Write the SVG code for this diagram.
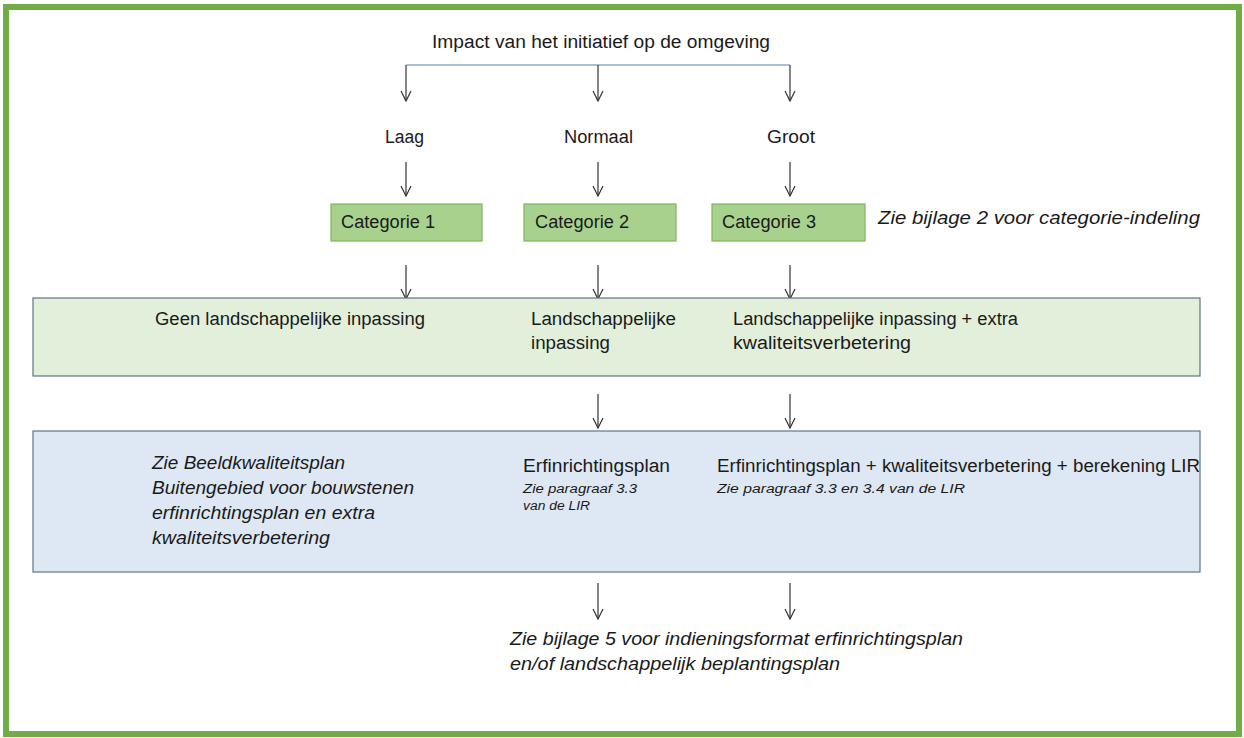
<svg xmlns="http://www.w3.org/2000/svg" width="1244" height="738" viewBox="0 0 1244 738">
<defs>
<marker id="ah" markerWidth="12" markerHeight="12" refX="11" refY="6" orient="auto" markerUnits="userSpaceOnUse" viewBox="0 0 12 12">
<path d="M1,1 L11,6 L1,11" fill="none" stroke="#333" stroke-width="1.2"/>
</marker>
</defs>
<style>
.t{font-family:"Liberation Sans",Arial,sans-serif;font-size:18px;fill:#1a1a1a}
.i{font-style:italic}
.s{font-size:12.5px}
.arr{stroke:#333;stroke-width:1.2;fill:none;marker-end:url(#ah)}
.cat{fill:#a9d18e;stroke:#7fb35a;stroke-width:1.2}
</style>
<rect x="6" y="7" width="1233" height="727" fill="#fff" stroke="#70ad47" stroke-width="6"/>

<g id="connectors">
<line x1="406" y1="65" x2="790" y2="65" stroke="#5b7fa6" stroke-width="1.2"/>
<line class="arr" x1="406" y1="65" x2="406" y2="101"/>
<line class="arr" x1="598" y1="65" x2="598" y2="101"/>
<line class="arr" x1="790" y1="65" x2="790" y2="101"/>
<line class="arr" x1="406" y1="162" x2="406" y2="196"/>
<line class="arr" x1="598" y1="162" x2="598" y2="196"/>
<line class="arr" x1="790" y1="162" x2="790" y2="196"/>
<line class="arr" x1="406" y1="265" x2="406" y2="299"/>
<line class="arr" x1="598" y1="265" x2="598" y2="299"/>
<line class="arr" x1="790" y1="265" x2="790" y2="299"/>
<line class="arr" x1="598" y1="394" x2="598" y2="428"/>
<line class="arr" x1="790" y1="394" x2="790" y2="428"/>
<line class="arr" x1="598" y1="583" x2="598" y2="619"/>
<line class="arr" x1="790" y1="583" x2="790" y2="619"/>
</g>

<g id="title"><text class="t" x="432" y="48" textLength="338" lengthAdjust="spacingAndGlyphs">Impact van het initiatief op de omgeving</text></g>
<g id="laag"><text class="t" x="385" y="143" textLength="39" lengthAdjust="spacingAndGlyphs">Laag</text></g>
<g id="normaal"><text class="t" x="564" y="143" textLength="69" lengthAdjust="spacingAndGlyphs">Normaal</text></g>
<g id="groot"><text class="t" x="767" y="143" textLength="48" lengthAdjust="spacingAndGlyphs">Groot</text></g>

<g id="cat1"><rect class="cat" x="331" y="204" width="151" height="37"/><text class="t" x="341" y="228" textLength="94" lengthAdjust="spacingAndGlyphs">Categorie 1</text></g>
<g id="cat2"><rect class="cat" x="524" y="204" width="152" height="37"/><text class="t" x="535" y="228" textLength="94" lengthAdjust="spacingAndGlyphs">Categorie 2</text></g>
<g id="cat3"><rect class="cat" x="712" y="204" width="153" height="37"/><text class="t" x="722" y="228" textLength="94" lengthAdjust="spacingAndGlyphs">Categorie 3</text></g>
<g id="note-cat"><text class="t i" x="878" y="224" textLength="322" lengthAdjust="spacingAndGlyphs">Zie bijlage 2 voor categorie-indeling</text></g>

<g id="inpassing">
<rect x="33" y="298" width="1167" height="78" fill="#e2efda" stroke="#5f7586" stroke-width="1.2"/>
<text class="t" x="155" y="325" textLength="270" lengthAdjust="spacingAndGlyphs">Geen landschappelijke inpassing</text>
<text class="t" x="531" y="325" textLength="145" lengthAdjust="spacingAndGlyphs">Landschappelijke</text>
<text class="t" x="531" y="349" textLength="79" lengthAdjust="spacingAndGlyphs">inpassing</text>
<text class="t" x="733" y="325" textLength="285" lengthAdjust="spacingAndGlyphs">Landschappelijke inpassing + extra</text>
<text class="t" x="733" y="349" textLength="178" lengthAdjust="spacingAndGlyphs">kwaliteitsverbetering</text>
</g>

<g id="plannen">
<rect x="33" y="431" width="1167" height="141" fill="#dee8f4" stroke="#5f7586" stroke-width="1.2"/>
<text class="t i" x="152" y="469" textLength="193" lengthAdjust="spacingAndGlyphs">Zie Beeldkwaliteitsplan</text>
<text class="t i" x="152" y="494" textLength="262" lengthAdjust="spacingAndGlyphs">Buitengebied voor bouwstenen</text>
<text class="t i" x="152" y="519" textLength="223" lengthAdjust="spacingAndGlyphs">erfinrichtingsplan en extra</text>
<text class="t i" x="152" y="544" textLength="178" lengthAdjust="spacingAndGlyphs">kwaliteitsverbetering</text>
<text class="t" x="523" y="472" textLength="147" lengthAdjust="spacingAndGlyphs">Erfinrichtingsplan</text>
<text class="t i s" x="523" y="493" textLength="114" lengthAdjust="spacingAndGlyphs">Zie paragraaf 3.3</text>
<text class="t i s" x="523" y="510" textLength="67" lengthAdjust="spacingAndGlyphs">van de LIR</text>
<text class="t" x="717" y="472" textLength="483" lengthAdjust="spacingAndGlyphs">Erfinrichtingsplan + kwaliteitsverbetering + berekening LIR</text>
<text class="t i s" x="717" y="493" textLength="248" lengthAdjust="spacingAndGlyphs">Zie paragraaf 3.3 en 3.4 van de LIR</text>
</g>

<g id="note-bijlage5">
<text class="t i" x="510" y="645" textLength="453" lengthAdjust="spacingAndGlyphs">Zie bijlage 5 voor indieningsformat erfinrichtingsplan</text>
<text class="t i" x="510" y="670" textLength="330" lengthAdjust="spacingAndGlyphs">en/of landschappelijk beplantingsplan</text>
</g>
</svg>
